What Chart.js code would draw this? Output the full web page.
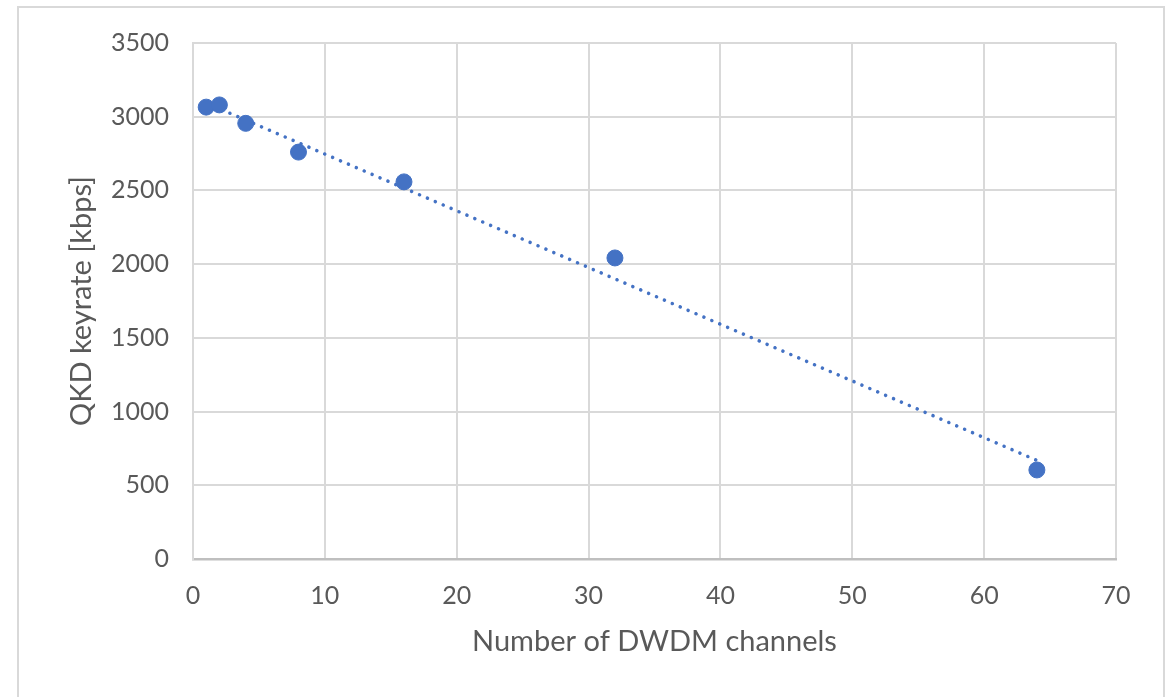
<!DOCTYPE html>
<html>
<head>
<meta charset="utf-8">
<script src="https://cdn.jsdelivr.net/npm/chart.js@4/dist/chart.umd.min.js"></script>
<style>
  body { margin: 0; background: #fff; }
  #frame { position: absolute; left: 17px; top: 6px; width: 1144px; height: 720px; border: 2px solid #d9d9d9; }
  #wrap { position: absolute; left: 0; top: 0; width: 1168px; height: 697px; }
</style>
</head>
<body>
<div id="frame"></div>
<div id="wrap"><canvas id="chart"></canvas></div>
<script>
// values
const channels = [1, 2, 4, 8, 16, 32, 64];
const keyrate = [3065, 3080, 2955, 2760, 2558, 2042, 604];
// linear trendline end points
const trendX = [1, 64];
const trendY = [3093, 669];
const xTicks = [0, 10, 20, 30, 40, 50, 60, 70];
const yTicks = [0, 500, 1000, 1500, 2000, 2500, 3000, 3500];

const blue = '#4472c4';
const textColor = '#595959';
const font = 'Lato, "Open Sans", sans-serif';

const data = {
  datasets: [
    {
      label: 'keyrate',
      data: channels.map((c, i) => ({ x: c, y: keyrate[i] })),
      backgroundColor: blue,
      borderColor: blue,
      pointRadius: 8,
      showLine: false
    },
    {
      label: 'trend',
      data: trendX.map((c, i) => ({ x: c, y: trendY[i] })),
      borderColor: blue,
      borderWidth: 3.5,
      borderDash: [0.1, 8.5],
      borderCapStyle: 'round',
      pointRadius: 0,
      showLine: true
    }
  ]
};

const options = {
  responsive: true,
  maintainAspectRatio: false,
  animation: false,
  layout: { padding: { left: 0, top: 43, right: 52, bottom: 0 } },
  plugins: {
    legend: { display: false },
    tooltip: { enabled: false }
  },
  scales: {
    x: {
      type: 'linear',
      min: 0,
      max: 70,
      afterBuildTicks: s => { s.ticks = xTicks.map(v => ({ value: v })); },
      afterFit: s => { s.height = 138; },
      grid: { color: '#d9d9d9', lineWidth: 2, drawTicks: false },
      border: { color: '#bfbfbf', width: 2.5 },
      ticks: { color: textColor, font: { family: font, size: 25 }, padding: 22, maxRotation: 0,
        callback: v => String(v) },
      title: {
        display: true,
        text: 'Number of DWDM channels',
        color: textColor,
        font: { family: font, size: 29 },
        padding: { top: 10, bottom: 38 }
      }
    },
    y: {
      type: 'linear',
      min: 0,
      max: 3500,
      afterBuildTicks: s => { s.ticks = yTicks.map(v => ({ value: v })); },
      afterFit: s => { s.width = 193; },
      grid: { color: '#d9d9d9', lineWidth: 2, drawTicks: false },
      border: { color: '#d9d9d9', width: 2 },
      ticks: { color: textColor, font: { family: font, size: 25 }, padding: 24,
        callback: v => String(v) },
      title: {
        display: true,
        text: 'QKD keyrate [kbps]',
        color: textColor,
        font: { family: font, size: 29 },
        padding: { top: 64, bottom: 0 }
      }
    }
  }
};

const ctx = document.getElementById('chart').getContext('2d');
const myChart = new Chart(ctx, { type: 'scatter', data: data, options: options });
</script>
</body>
</html>
